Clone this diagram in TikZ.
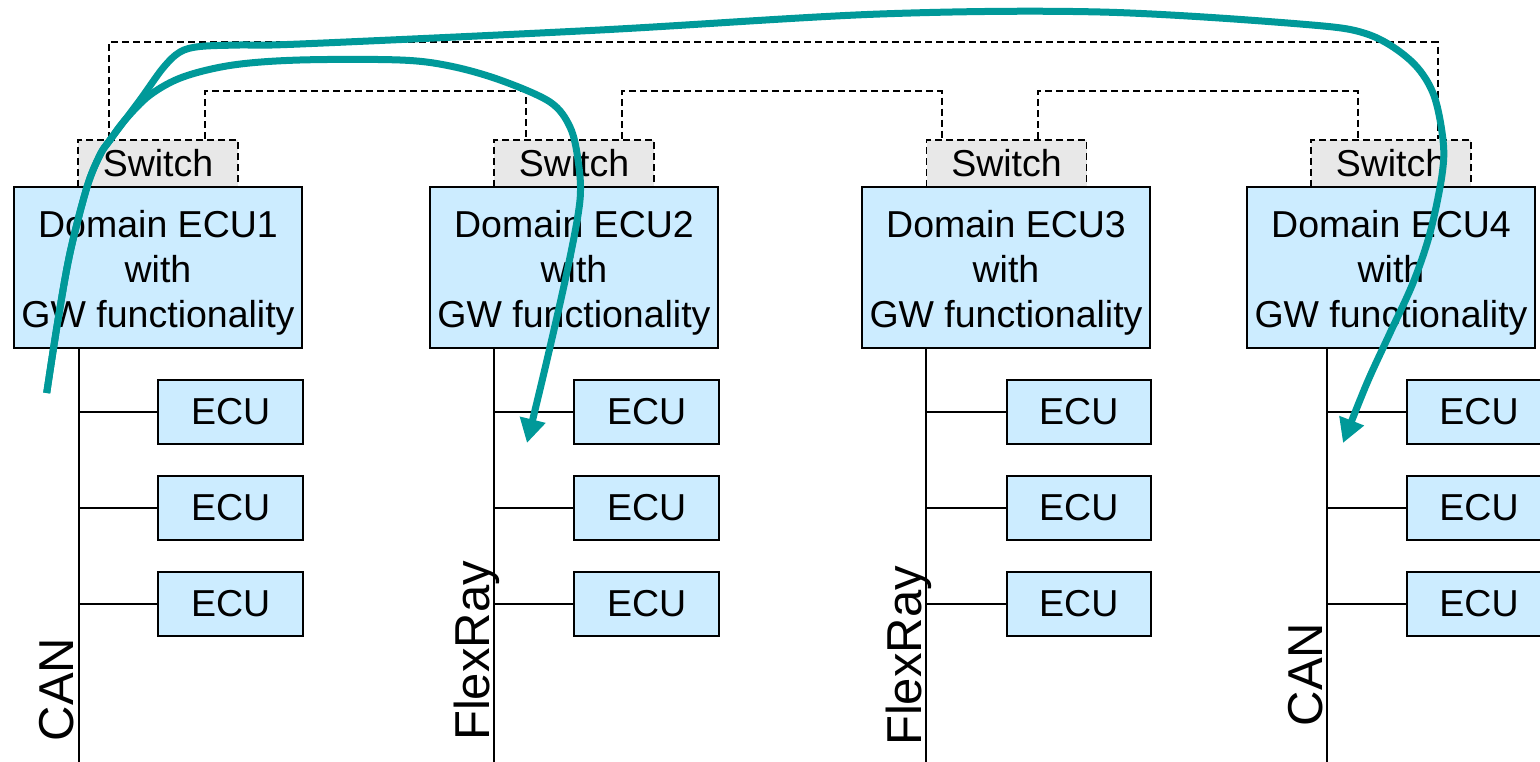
\documentclass[tikz,border=0pt]{standalone}
\usepackage{fontspec}
\setmainfont{Liberation Sans}
\usetikzlibrary{arrows.meta,calc}
\definecolor{boxblue}{RGB}{204,236,255}
\definecolor{swgray}{RGB}{232,232,232}
\definecolor{flowteal}{RGB}{0,153,153}
\newcommand{\boxfont}{\fontsize{37.5}{45}\selectfont}
\newcommand{\busfont}{\fontsize{49}{55}\selectfont}
\begin{document}
\begin{tikzpicture}[x=1pt,y=-1pt,
  dom/.style={draw=black,line width=2pt,fill=boxblue,minimum width=288pt,minimum height=161pt,inner sep=0pt},
  domtext/.style={inner sep=0pt,align=center,font=\boxfont},
  sw/.style={draw=black,line width=1.8pt,dash pattern=on 7pt off 4pt,fill=swgray,minimum width=160pt,minimum height=47pt,inner sep=0pt,font=\boxfont},
  ecu/.style={draw=black,line width=2pt,fill=boxblue,minimum width=144.5pt,minimum height=64pt,inner sep=0pt,font=\boxfont},
  bus/.style={draw=black,line width=2pt},
  link/.style={draw=black,line width=1.8pt,dash pattern=on 7pt off 4pt},
  buslabel/.style={rotate=90,anchor=base,inner sep=0pt,font=\busfont},
  flow/.style={draw=flowteal,line width=7pt,line cap=butt,-{Triangle[length=24pt,width=25pt]}}]
\clip (0,0) rectangle (1540,762);
\fill[white] (0,0) rectangle (1540,762);
\coordinate (bottom) at (0,770);

% switches
\node[sw] (s1) at (158,163.5) {\raisebox{-2pt}{Switch}};
\node[sw] (s2) at (574,163.5) {\raisebox{-2pt}{Switch}};
\node[sw] (s3) at (1006.5,163.5) {\raisebox{-2pt}{Switch}};
\node[sw] (s4) at (1391,163.5) {\raisebox{-2pt}{Switch}};

% domain ECUs
\node[dom] (d1) at (158,267.5) {};
\node[dom] (d2) at (574,267.5) {};
\node[dom] (d3) at (1006,267.5) {};
\node[dom] (d4) at (1391,267.5) {};
\node[domtext] (t1) at ($(d1.center)+(0,5.5)$) {Domain ECU1\\with\\GW functionality};
\node[domtext] (t2) at ($(d2.center)+(0,5.5)$) {Domain ECU2\\with\\GW functionality};
\node[domtext] (t3) at ($(d3.center)+(0,5.5)$) {Domain ECU3\\with\\GW functionality};
\node[domtext] (t4) at ($(d4.center)+(0,5.5)$) {Domain ECU4\\with\\GW functionality};

% dashed switch links
\draw[link] ($(s1.north west)+(32,0)$) |- ($(s4.north west)+(128,-96.7)$) -- ($(s4.north west)+(128,0)$);
\draw[link] ($(s1.north west)+(128,0)$) |- ($(s2.north west)+(32.5,-47.7)$) -- ($(s2.north west)+(32.5,0)$);
\draw[link] ($(s2.north west)+(129,0)$) |- ($(s3.north west)+(16.5,-47.7)$) -- ($(s3.north west)+(16.5,0)$);
\draw[link] ($(s3.north west)+(112.5,0)$) |- ($(s4.north west)+(48,-47.7)$) -- ($(s4.north west)+(48,0)$);

% buses
\coordinate (bus1) at (78.5,348);
\coordinate (bus2) at (494.4,348);
\coordinate (bus3) at (926.3,348);
\coordinate (bus4) at (1327,348);
\foreach \i in {1,2,3,4} {\draw[bus] (bus\i) -- (bus\i |- bottom);}

% ECUs
\foreach \i/\x in {1/230.7,2/646.6,3/1078.8,4/1479} {
  \foreach \j/\y in {1/412,2/508,3/604} {
    \node[ecu] (e\i\j) at (\x,\y) {\raisebox{-1pt}{ECU}};
    \draw[bus] (bus\i |- e\i\j.west) -- (e\i\j.west);
  }
}

% bus labels
\node[buslabel] (l1) at (73,689.5) {CAN};
\node[buslabel] (l2) at (489.6,651) {FlexRay};
\node[buslabel] (l3) at (921,656) {FlexRay};
\node[buslabel] (l4) at (1322,674.5) {CAN};

% flows
\coordinate (start) at (46.7,393);
\coordinate (tip2) at (527,443);
\coordinate (tip4) at (1343,443);
\draw[flow] plot[smooth,tension=0.55] coordinates {(start) (58,320) (70,253) (87,187) (100,155) (110,140)
  (140,100) (163,68) (180,52) (200,46.5) (240,45) (300,44) (600,30) (880,14) (1100,12) (1300,24)
  (1367,34) (1410,60) (1433,93) (1443,140) (1442,175) (1430,233) (1413,283) (1390,333) (1367,383) (tip4)};
\draw[flow] plot[smooth,tension=0.55] coordinates {(start) (58,320) (70,253) (87,187) (100,155) (110,140)
  (125,120) (150,95) (183,77) (233,65) (300,60) (400,60) (450,66) (500,80) (550,102) (570,127) (578,160)
  (580,200) (568,267) (547,360) (tip2)};
\end{tikzpicture}
\end{document}
